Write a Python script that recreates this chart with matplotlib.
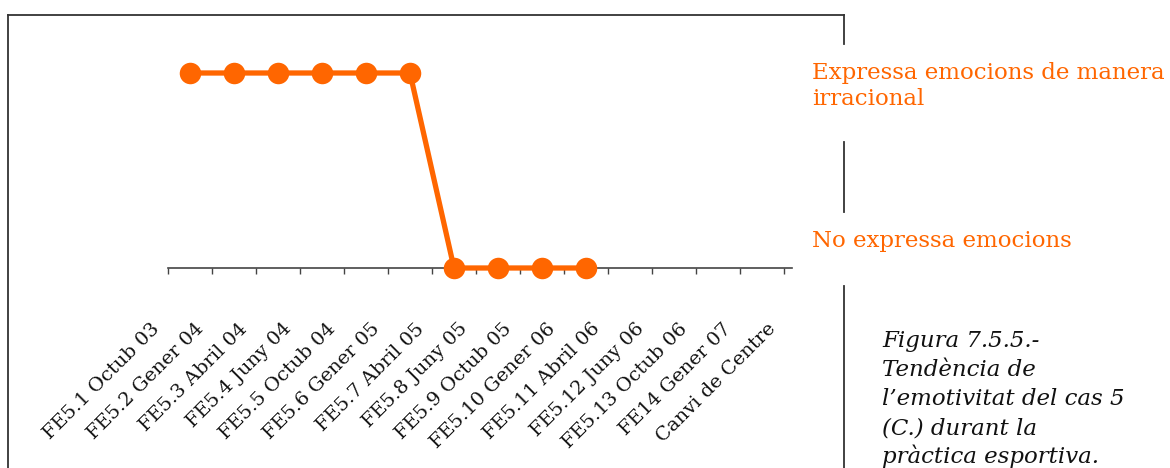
import numpy as np
import matplotlib
matplotlib.use("Agg")
import matplotlib.pyplot as plt
from matplotlib.lines import Line2D
from matplotlib.transforms import ScaledTranslation

categories = ["FE5.1 Octub 03", "FE5.2 Gener 04", "FE5.3 Abril 04", "FE5.4 Juny 04",
              "FE5.5 Octub 04", "FE5.6 Gener 05", "FE5.7 Abril 05", "FE5.8 Juny 05",
              "FE5.9 Octub 05", "FE5.10 Gener 06", "FE5.11 Abril 06", "FE5.12 Juny 06",
              "FE5.13 Octub 06", "FE14 Gener 07", "Canvi de Centre"]
values = [1, 1, 1, 1, 1, 1, 0, 0, 0, 0, np.nan, np.nan, np.nan, np.nan, np.nan]
level_labels = ["No expressa emocions", "Expressa emocions de manera\nirracional"]
caption = ["Figura 7.5.5.-", "Tendència de", "l’emotivitat del cas 5",
           "(C.) durant la", "pràctica esportiva."]

ORANGE = "#FF6600"
W, H = 1170, 468
fig = plt.figure(figsize=(W / 100, H / 100), dpi=100)

def fx(px):
    return px / W

def fy(py):
    return 1 - py / H

# axes: x from 168px (-0.5) with 44 px per category; y=0 at 268px, y=1 at 73px
ax_left, ax_right = 168, 168 + 44 * len(categories)
ax_bottom, ax_top = 268, 40
ax = fig.add_axes([fx(ax_left), fy(ax_bottom), (ax_right - ax_left) / W,
                   (ax_bottom - ax_top) / H])
x = np.arange(len(categories))
ax.plot(x, values, color=ORANGE, lw=3.8, marker="o", ms=15.5,
        markeredgewidth=0, clip_on=False, zorder=3)
ax.set_xlim(-0.5, len(categories) - 0.5)
ax.set_ylim(0, (ax_bottom - ax_top) / (ax_bottom - 73))
for s in ["top", "right", "left"]:
    ax.spines[s].set_visible(False)
ax.spines["bottom"].set_color("#444444")
ax.spines["bottom"].set_linewidth(1.2)
ax.spines["bottom"].set_bounds(-0.5, 13.68)
ax.set_yticks([])
ax.set_xticks(x)
ax.set_xticklabels(categories, rotation=45, ha="right", va="center",
                   rotation_mode="anchor", fontsize=14, family="DejaVu Serif",
                   color="#111111")
ax.set_xticks(np.arange(-0.5, 13.6, 1.0), minor=True)
ax.tick_params(axis="x", which="major", length=0, pad=0)
ax.tick_params(axis="x", which="minor", length=4.5, width=1.0, color="#444444",
               direction="out")
off = ScaledTranslation(-33 / 100, -58 / 100, fig.dpi_scale_trans)
for lab in ax.get_xticklabels():
    lab.set_transform(lab.get_transform() + off)

# outer frame lines
frame_kw = dict(color="#333333", lw=1.3, transform=fig.transFigure)
fig.add_artist(Line2D([fx(8), fx(844)], [fy(15), fy(15)], **frame_kw))
fig.add_artist(Line2D([fx(8), fx(8)], [fy(15), fy(470)], **frame_kw))
for y0, y1 in [(15, 44), (142, 212), (286, 470)]:
    fig.add_artist(Line2D([fx(844), fx(844)], [fy(y0), fy(y1)], **frame_kw))

# level labels
hi_lines = level_labels[1].split("\n")
fig.text(fx(812), fy(79), hi_lines[0], color=ORANGE, fontsize=16.5,
         family="DejaVu Serif", va="baseline", ha="left")
fig.text(fx(812), fy(105), hi_lines[1], color=ORANGE, fontsize=16.5,
         family="DejaVu Serif", va="baseline", ha="left")
fig.text(fx(812), fy(247), level_labels[0], color=ORANGE, fontsize=16.5,
         family="DejaVu Serif", va="baseline", ha="left")

# caption
for i, line in enumerate(caption):
    fig.text(fx(882), fy(347 + 29 * i), line, color="#111111", fontsize=16.5,
             family="DejaVu Serif", style="italic", va="baseline", ha="left")

fig.savefig("out.png", dpi=100)
